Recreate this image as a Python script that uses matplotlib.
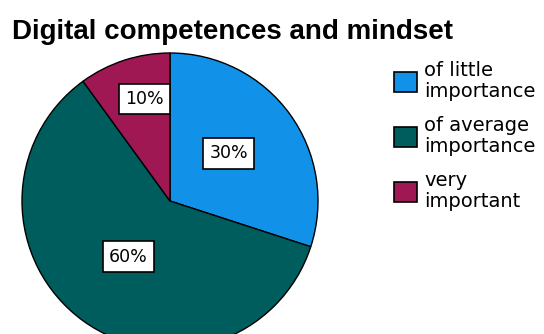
import matplotlib.pyplot as plt
import numpy as np

plt.rcParams['font.family'] = ['DejaVu Sans']

# shares of respondents per answer
categories = ['of little\nimportance', 'of average\nimportance', 'very\nimportant']
shares = [30, 60, 10]
colors = ['#1192e8', '#005d5d', '#9f1853']
label_radius = [0.51, 0.47, 0.71]
label_shift = [3, -1, -4]   # degrees, nudges each label along the circle

fig = plt.figure(figsize=(5.44, 3.34), dpi=100)
ax = fig.add_axes([22/544, -15/334, 296/544, 296/334])

wedges, _ = ax.pie(shares, colors=colors, startangle=90, counterclock=False,
                   wedgeprops=dict(edgecolor='black', linewidth=1.0))
ax.set_xlim(-1, 1)
ax.set_ylim(-1, 1)

for w, v, r, s in zip(wedges, shares, label_radius, label_shift):
    mid = np.deg2rad((w.theta1 + w.theta2) / 2 + s)
    ax.text(r * np.cos(mid), r * np.sin(mid), f'{v}%', ha='center', va='center',
            fontsize=12.5,
            bbox=dict(boxstyle='square,pad=0.35', fc='white', ec='black', lw=1.2))

fig.text(12/544, 1 - 39/334, 'Digital competences and mindset', fontsize=20,
         fontweight='bold', ha='left', va='baseline', family='Liberation Sans')

leg = fig.legend(wedges, categories, loc='upper left',
                 bbox_to_anchor=(394/544, 1 - 61/334), frameon=False,
                 fontsize=14, handlelength=1.2, handleheight=1.2,
                 handletextpad=0.35, labelspacing=0.75, borderpad=0, borderaxespad=0)
for t in leg.get_texts():
    t.set_linespacing(1.15)
for p in leg.get_patches():
    p.set_edgecolor('black')
    p.set_linewidth(1.2)

fig.savefig('out.png', dpi=100)
